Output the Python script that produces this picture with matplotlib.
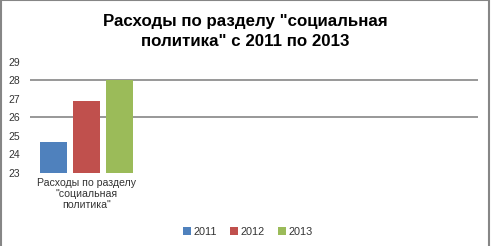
import matplotlib.pyplot as plt
import numpy as np
from matplotlib.patches import Rectangle

plt.rcParams['font.family'] = ['Liberation Sans', 'DejaVu Sans']

# data
years = ['2011', '2012', '2013']
values = [24.65, 26.87, 28.0]
category = 'Расходы по разделу\n"социальная\nполитика"'
yticks = [23, 24, 25, 26, 27, 28, 29]
grid_at = [26, 28]
colors = ['#4F81BD', '#C0504D', '#9BBB59']

fig = plt.figure(figsize=(4.91, 2.46), dpi=100)
ax = fig.add_axes([0.061, 0.297, 0.913, 0.451])

step = 0.3
width = 0.245
for i, (yr, v, c) in enumerate(zip(years, values, colors)):
    ax.bar((i - 1) * step, v - 23, width, bottom=23, color=c, label=yr, zorder=3)

for g in grid_at:
    ax.axhline(g, color='#868686', linewidth=1.2, zorder=1)

ax.set_ylim(23, 29)
ax.set_xlim(-0.514, 3.56)
ax.set_yticks(yticks)
ax.set_yticklabels([str(t) for t in yticks], fontsize=7.5, color='#333333')
ax.set_xticks([0])
ax.set_xticklabels([category], fontsize=7.6, color='#333333', linespacing=1.1)
ax.tick_params(length=0, pad=4)
ax.tick_params(axis='y', pad=7)
for s in ax.spines.values():
    s.set_visible(False)

fig.suptitle('Расходы по разделу "социальная\nполитика" с 2011 по 2013',
             fontsize=12.2, fontweight='bold', y=0.945, linespacing=1.45)

leg = fig.legend(loc='center', bbox_to_anchor=(0.505, 0.058), ncol=3, frameon=False,
                 fontsize=7.8, handlelength=0.75, handleheight=0.75, handletextpad=0.25,
                 columnspacing=1.2)
for t in leg.get_texts():
    t.set_color('#333333')

fig.patches.append(Rectangle((0.002, -0.1), 0.994, 1.098, transform=fig.transFigure,
                             fill=False, edgecolor='#868686', linewidth=1.5))

fig.savefig('out.png', dpi=100)
